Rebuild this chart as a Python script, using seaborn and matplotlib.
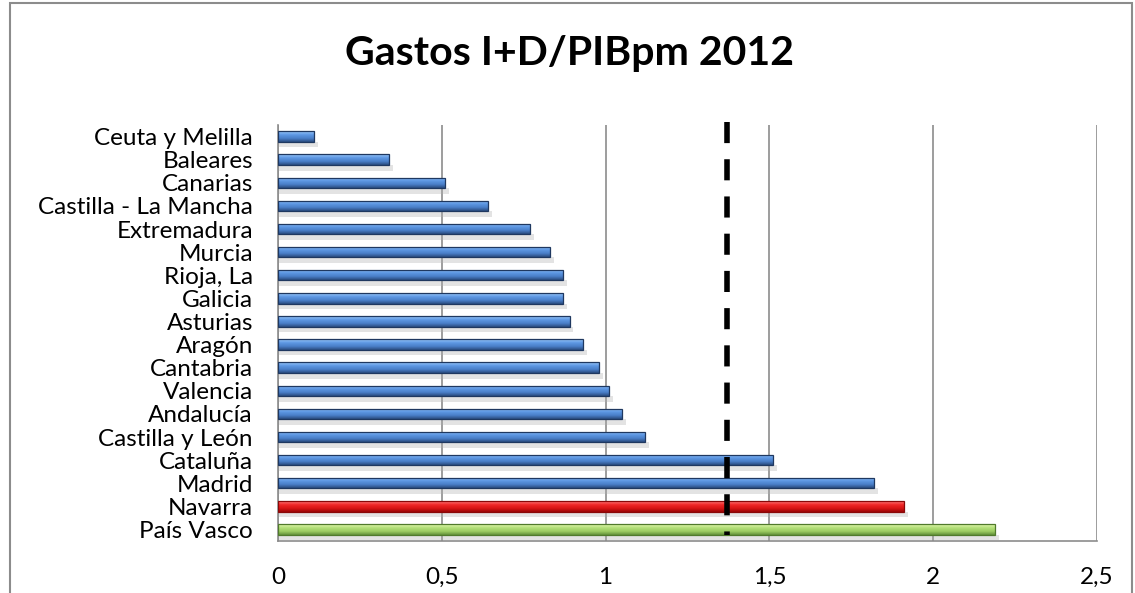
import matplotlib
matplotlib.use('Agg')
import matplotlib.pyplot as plt
import matplotlib.patches as mpatches
from matplotlib.colors import LinearSegmentedColormap, to_hex
import numpy as np
import pandas as pd
import seaborn as sns

# datos
regiones = ['Ceuta y Melilla', 'Baleares', 'Canarias', 'Castilla - La Mancha', 'Extremadura',
            'Murcia', 'Rioja, La', 'Galicia', 'Asturias', 'Aragón', 'Cantabria', 'Valencia',
            'Andalucía', 'Castilla y León', 'Cataluña', 'Madrid', 'Navarra', 'País Vasco']
gasto = [0.11, 0.34, 0.51, 0.64, 0.77, 0.83, 0.87, 0.87, 0.89, 0.93, 0.98, 1.01,
         1.05, 1.12, 1.51, 1.82, 1.91, 2.19]
grupo = ['resto'] * 16 + ['navarra', 'vasco']
media_espana = 1.37

xticks = [0, 0.5, 1, 1.5, 2, 2.5]
xtick_labels = ['0', '0,5', '1', '1,5', '2', '2,5']
titulo = 'Gastos I+D/PIBpm 2012'

# colores: base, degradado (claro arriba -> oscuro abajo), borde
colores = {'resto': '#4F86D2', 'navarra': '#E82020', 'vasco': '#A8D868'}
degradados = {
    'resto': ['#9CC8FA', '#5E98E4', '#4A7FC8', '#2A4C80'],
    'navarra': ['#FF7A7A', '#F02828', '#D81414', '#9A0606'],
    'vasco': ['#E6FAB0', '#B4E07A', '#9CCC62', '#62903A'],
}
bordes = {'resto': '#1F3860', 'navarra': '#8A0808', 'vasco': '#507A2C'}

sns.set_style('white')
plt.rcParams['font.family'] = ['Lato', 'DejaVu Sans']

df = pd.DataFrame({'region': regiones, 'gasto': gasto, 'grupo': grupo})

fig = plt.figure(figsize=(11.35, 5.93), dpi=100)
ax = fig.add_axes([278 / 1135, 52 / 593, 819 / 1135, 416 / 593])

sns.barplot(data=df, x='gasto', y='region', hue='grupo', palette=colores, dodge=False,
            width=0.45, legend=False, ax=ax, linewidth=0, saturation=1)

hex_a_grupo = {to_hex(c): g for g, c in colores.items()}
grad = np.linspace(0, 1, 64).reshape(-1, 1)
for p in list(ax.patches):
    w = p.get_width()
    if w <= 0:
        continue
    g = hex_a_grupo.get(to_hex(p.get_facecolor()), 'resto')
    cmap = LinearSegmentedColormap.from_list(g, degradados[g])
    x0, y0, h = p.get_x(), p.get_y(), p.get_height()
    # sombra suave debajo de la barra
    sombra = mpatches.Rectangle((x0, y0 + h), w + 0.012, h * 0.55, facecolor='#B0B0B0',
                                alpha=0.35, edgecolor='none', zorder=1.5)
    ax.add_patch(sombra)
    im = ax.imshow(grad, cmap=cmap, extent=(x0, x0 + w, y0 + h, y0), origin='upper',
                   aspect='auto', zorder=2.5, interpolation='bilinear')
    im.set_clip_path(p)
    p.set_facecolor('none')
    p.set_edgecolor(bordes[g])
    p.set_linewidth(0.9)
    p.set_zorder(3)

ax.set_xlim(0, 2.5)
ax.set_ylim(17.5, -0.5)
ax.set_xticks(xticks)
ax.set_xticklabels(xtick_labels)
ax.set_xlabel('')
ax.set_ylabel('')
ax.xaxis.grid(True, color='#8C8C8C', linewidth=1.2)
ax.yaxis.grid(False)
ax.set_axisbelow(True)
for s in ['top', 'right']:
    ax.spines[s].set_visible(False)
for s in ['left', 'bottom']:
    ax.spines[s].set_color('#8C8C8C')
    ax.spines[s].set_linewidth(1.2)
ax.tick_params(axis='both', length=0, labelsize=17.5, colors='black')
ax.tick_params(axis='y', pad=18)
ax.tick_params(axis='x', pad=18.5)

# media de Espana, linea discontinua
ax.plot([media_espana, media_espana], [1.007, 0.014], transform=ax.get_xaxis_transform(),
        color='black', linewidth=4, linestyle=(0, (3.8, 2.9)), clip_on=False, zorder=4,
        solid_capstyle='butt', dash_capstyle='butt')

fig.text(0.502, 1 - 54 / 593, titulo, ha='center', va='center', fontsize=29.5,
         fontweight='bold', color='black')

marco = mpatches.Rectangle((10 / 1135, -0.1), 1122 / 1135, 1.1 - 3 / 593,
                           transform=fig.transFigure, fill=False, edgecolor='#8C8C8C',
                           linewidth=1.5)
fig.patches.append(marco)

fig.savefig('out.png', dpi=100)
